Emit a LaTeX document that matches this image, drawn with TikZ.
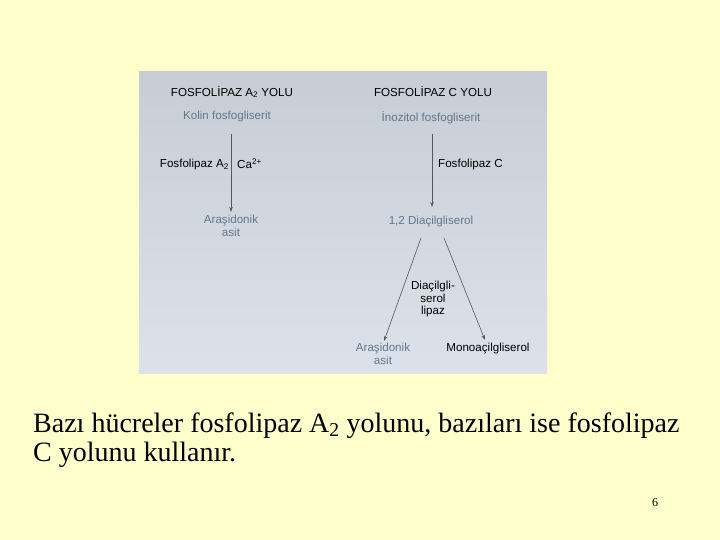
\documentclass[tikz,border=0pt]{standalone}
\usepackage{fontspec}
\setmainfont{Liberation Serif}
\newfontfamily\boxfont{Liberation Sans}
\usetikzlibrary{arrows.meta}
\definecolor{slidebg}{HTML}{FFFFCC}
\definecolor{boxtop}{HTML}{C6CDD4}
\definecolor{boxbot}{HTML}{DCE2EA}
\definecolor{sublab}{HTML}{62778A}
\definecolor{arrowc}{HTML}{505860}
\begin{document}
\begin{tikzpicture}[x=1pt,y=-1pt,
  bt/.style={font=\boxfont\fontsize{11.6}{12.5}\selectfont, text=black, inner sep=0pt},
  bs/.style={font=\boxfont\fontsize{11.6}{12.5}\selectfont, text=sublab, inner sep=0pt, align=center},
  arr/.style={draw=arrowc, line width=0.9pt, -{Stealth[length=5pt,width=3.5pt]}},
  thinarr/.style={draw=arrowc, line width=0.6pt, -{Stealth[length=5pt,width=3.5pt]}},
  captext/.style={font=\fontsize{28}{32}\selectfont, inner sep=0pt, anchor=base west}]
\fill[slidebg] (0,0) rectangle (720,540);
\useasboundingbox (0,0) rectangle (720,540);
\shade[top color=boxtop, bottom color=boxbot] (139,72) rectangle (547,373);
% left pathway
\node[bt] (tA) at (232,92) {FOSFOL\.IPAZ A\textsubscript{2} YOLU};
\node[bs] (kf) at (227,117) {Kolin fosfogliserit};
\coordinate (la1) at (231,134);
\coordinate (la2) at (231,212);
\draw[arr] (la1) -- (la2);
\node[bt, anchor=east] (fA) at (229,165) {Fosfolipaz A\textsubscript{2}};
\node[bt, anchor=west] (ca) at (237,164) {Ca\textsuperscript{2+}};
\node[bs] (aa1) at (231,226) {Araşidonik\\asit};
% right pathway
\node[bt] (tC) at (433,92) {FOSFOL\.IPAZ C YOLU};
\node[bs] (if) at (431,118) {\.Inozitol fosfogliserit};
\coordinate (ra1) at (432,134);
\coordinate (ra2) at (432,207);
\draw[arr] (ra1) -- (ra2);
\node[bt, anchor=west] (fC) at (438,165) {Fosfolipaz C};
\node[bs] (dg) at (431,222) {1,2 Diaçilgliserol};
\coordinate (d1) at (421,238);
\coordinate (d2) at (444,238);
\node[bt, align=center] (dl) at (433,299) {Diaçilgli-\\serol\\lipaz};
\node[bs] (aa2) at (383,354) {Araşidonik\\asit};
\node[bt] (mg) at (488,349) {Monoaçilgliserol};
\coordinate (e1) at (384,341);
\coordinate (e2) at (485,340);
\draw[thinarr] (d1) -- (e1);
\draw[thinarr] (d2) -- (e2);
% caption
\node[captext] (c1) at (33,432) {Bazı hücreler fosfolipaz A\textsubscript{2} yolunu, bazıları ise fosfolipaz};
\node[captext] (c2) at (33,461) {C yolunu kullanır.};
\node[font=\fontsize{12}{14}\selectfont, inner sep=0pt] (pg) at (655,503) {6};
\end{tikzpicture}
\end{document}
